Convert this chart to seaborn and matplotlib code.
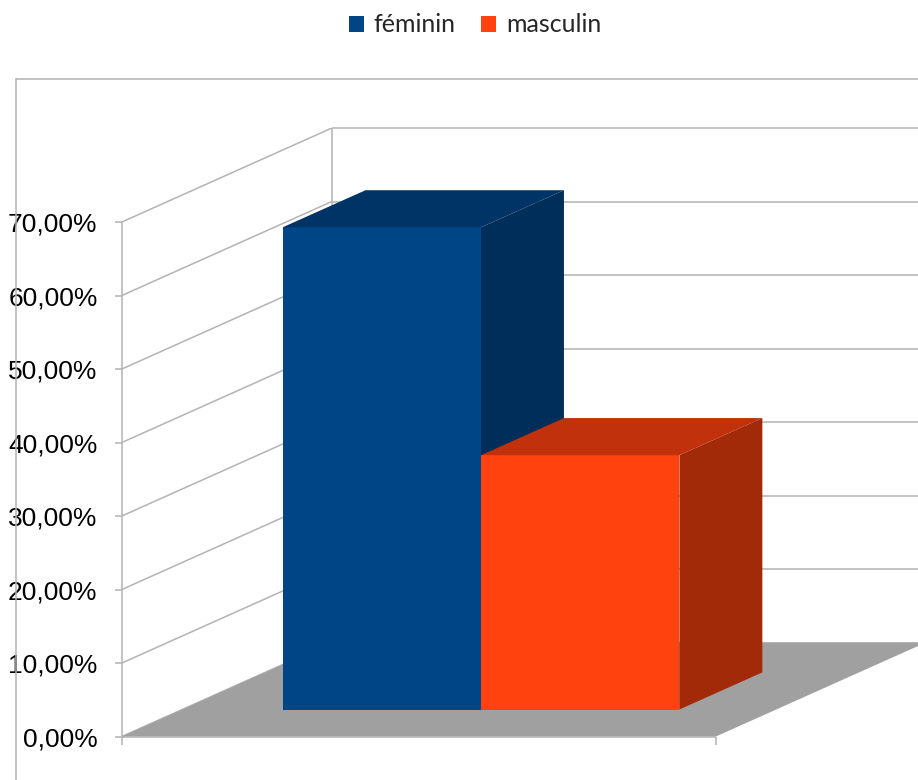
import matplotlib
matplotlib.use("Agg")
import matplotlib.pyplot as plt
from matplotlib.patches import Polygon, Patch
from matplotlib.lines import Line2D
import numpy as np
import pandas as pd
import seaborn as sns

# ---- data -------------------------------------------------------------
series = ["féminin", "masculin"]
shares = [65.6, 34.6]          # percent
group = ["", ""]               # single category on the x axis
ticks = [0, 10, 20, 30, 40, 50, 60, 70]

front_colors = ["#004586", "#ff420e"]
top_colors = ["#003366", "#c1310b"]
side_colors = ["#002e5a", "#a32a09"]
grid_color = "#b3b3b3"
floor_color = "#a0a0a0"

# ---- figure / axes ----------------------------------------------------
W, H = 918, 780
sns.set_style("white")
plt.rcParams["font.family"] = ["Liberation Sans", "DejaVu Sans"]

fig = plt.figure(figsize=(W / 100, H / 100), dpi=100)
ax = fig.add_axes([0, 0, 1, 1])

# data <-> pixel layout of the oblique 3D view
PX_X = 594.0     # pixels per category width
CX = 481.0       # pixel column of the category centre (bar front plane)
PX_Y = 7.35      # pixels per percent
Y0 = 709.5       # pixel row of 0 % on the bar front plane
DX = 210.0 / PX_X
DY = 94.0 / PX_Y

x0, x1 = -0.503, 0.497     # floor extent along the category axis
d0, d1 = -0.289, 0.711     # floor extent in depth
db = 0.395                 # bar depth


def P(x, y, d):
    return (x + d * DX, y + d * DY)


df = pd.DataFrame({"groupe": group, "sexe": series, "part": shares})
sns.barplot(data=df, x="groupe", y="part", hue="sexe", palette=front_colors,
            width=0.668, saturation=1, legend=False, ax=ax, linewidth=0)

ax.set_xlim((0 - CX) / PX_X, (W - CX) / PX_X)
ax.set_ylim((Y0 - H) / PX_Y, Y0 / PX_Y)
ax.axis("off")


def seg(p, q, z=1.0, lw=1.1, color=grid_color):
    ax.add_line(Line2D([p[0], q[0]], [p[1], q[1]], color=color, lw=lw,
                       zorder=z, solid_capstyle="butt"))


# walls: grid lines on the side wall and on the back wall
for v in ticks:
    seg(P(x0, v, d0), P(x0, v, d1))
    seg(P(x0, v, d1), P(x1 + 0.2, v, d1))
seg(P(x0, -8 / PX_Y, d0), P(x0, ticks[-1], d0))
seg(P(x0, 0, d1), P(x0, ticks[-1], d1))

# floor
floor = Polygon([P(x0, 0, d0), P(x1, 0, d0), P(x1, 0, d1), P(x0, 0, d1)],
                closed=True, facecolor=floor_color, edgecolor="none", zorder=1.5)
ax.add_patch(floor)
seg(P(x0, 0, d0), P(x1, 0, d0), z=1.6)
seg(P(x1, 0, d0), P(x1, -8 / PX_Y, d0), z=1.6)

# axis tick marks and labels
for v in ticks:
    fx, fy = P(x0, v, d0)
    seg((fx - 7 / PX_X, fy), (fx, fy), z=1.6)
    label = f"{v:.2f}".replace(".", ",") + "%"
    ax.text(fx - 24 / PX_X, fy - 0.35, label, ha="right", va="center",
            fontsize=19, color="#000000", zorder=5)

# bars: seaborn front faces plus top and side faces
for i, cont in enumerate(ax.containers):
    for rect in cont.patches:
        rect.set_zorder(2 + i)
        bx, bw, bh = rect.get_x(), rect.get_width(), rect.get_height()
        top = Polygon([P(bx, bh, 0), P(bx + bw, bh, 0),
                       P(bx + bw, bh, db), P(bx, bh, db)],
                      closed=True, facecolor=top_colors[i], edgecolor="none",
                      zorder=2 + i)
        side = Polygon([P(bx + bw, 0, 0), P(bx + bw, bh, 0),
                        P(bx + bw, bh, db), P(bx + bw, 0, db)],
                       closed=True, facecolor=side_colors[i], edgecolor="none",
                       zorder=2 + i)
        ax.add_patch(side)
        ax.add_patch(top)

# outer chart frame
fig.add_artist(Line2D([16 / W, 16 / W], [1 - 79 / H, 0], transform=fig.transFigure,
                      color=grid_color, lw=1.1))
fig.add_artist(Line2D([16 / W, 1], [1 - 79 / H, 1 - 79 / H], transform=fig.transFigure,
                      color=grid_color, lw=1.1))

# legend
handles = [Patch(facecolor=c, edgecolor="none") for c in front_colors]
fig.legend(handles=handles, labels=series, loc="center",
           bbox_to_anchor=(475 / W, 1 - 25 / H), ncol=2, frameon=False,
           prop={"family": ["Lato", "DejaVu Sans"], "size": 18},
           handlelength=0.6, handleheight=0.6, handletextpad=0.4,
           columnspacing=1.0)

fig.savefig("out.png", dpi=100)
